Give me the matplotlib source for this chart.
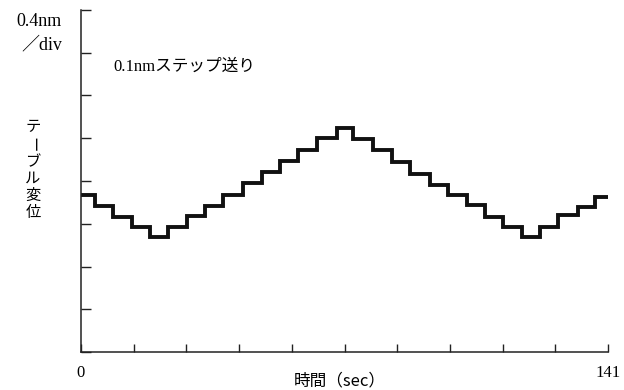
import numpy as np
import matplotlib
matplotlib.use("Agg")
import matplotlib.pyplot as plt

# step edges (sec) and plateau levels (nm)
t_edges = [0, 3.7, 8.6, 13.6, 18.5, 23.3, 28.4, 33.2, 38.0, 43.4, 48.4,
           53.3, 58.1, 63.2, 68.5, 72.8, 78.1, 83.2, 88.0, 93.4, 98.2,
           103.3, 108.1, 112.9, 118.0, 122.8, 127.6, 133.0, 137.5, 141]
levels = [1.47, 1.37, 1.26, 1.17, 1.08, 1.17, 1.27, 1.37, 1.47, 1.58,
          1.68, 1.79, 1.89, 2.00, 2.10, 1.99, 1.89, 1.78, 1.67, 1.56,
          1.47, 1.38, 1.26, 1.17, 1.08, 1.17, 1.28, 1.36, 1.45]

x_ticks = np.linspace(0, 141, 11)
x_ticklabels = ['0'] + [''] * 9 + ['141']
y_ticks = np.arange(0, 3.21, 0.4)
ylabel_chars = ['テ', 'ー', 'ブ', 'ル', '変', '位']

jp = ['Liberation Serif', 'Noto Sans CJK JP']
plt.rcParams['font.family'] = jp

fig = plt.figure(figsize=(6.24, 3.9), dpi=100)
ax = fig.add_axes([0.1298, 0.0974, 0.8446, 0.877])

ax.stairs(levels, t_edges, baseline=None, color='#111111', lw=2.8)

ax.set_xlim(0, 141)
ax.set_ylim(0, 3.2)
for s in ['top', 'right']:
    ax.spines[s].set_visible(False)
for s in ['left', 'bottom']:
    ax.spines[s].set_color('#222222')
    ax.spines[s].set_linewidth(1.1)

ax.set_xticks(x_ticks)
ax.set_xticklabels(x_ticklabels, fontsize=12)
ax.tick_params(axis='x', direction='in', length=6, width=1, pad=9, color='#222222')
ax.set_yticks(y_ticks)
ax.set_yticklabels([])
ax.tick_params(axis='y', direction='in', length=7, width=1, color='#222222')

# scale note and step annotation
fig.text(62 / 624, 1 - 22 / 390, '0.4nm', ha='right', va='center', fontsize=13)
fig.text(62 / 624, 1 - 45 / 390, '／div', ha='right', va='center', fontsize=13)
fig.text(113 / 624, 1 - 67 / 390, '0.1nmステップ送り', ha='left', va='center',
         fontsize=12)

# vertical y label, one character per line
for i, ch in enumerate(ylabel_chars):
    fig.text(33 / 624, 1 - (127 + i * 17.2) / 390, ch, ha='center', va='center',
             fontsize=11, rotation=-90 if ch == 'ー' else 0,
             family=['Noto Sans CJK JP'])

fig.text(340 / 624, 1 - 381 / 390, '時間（sec）', ha='center', va='center',
         fontsize=12, family=['Noto Sans CJK JP'])

fig.savefig('out.png', dpi=100)
